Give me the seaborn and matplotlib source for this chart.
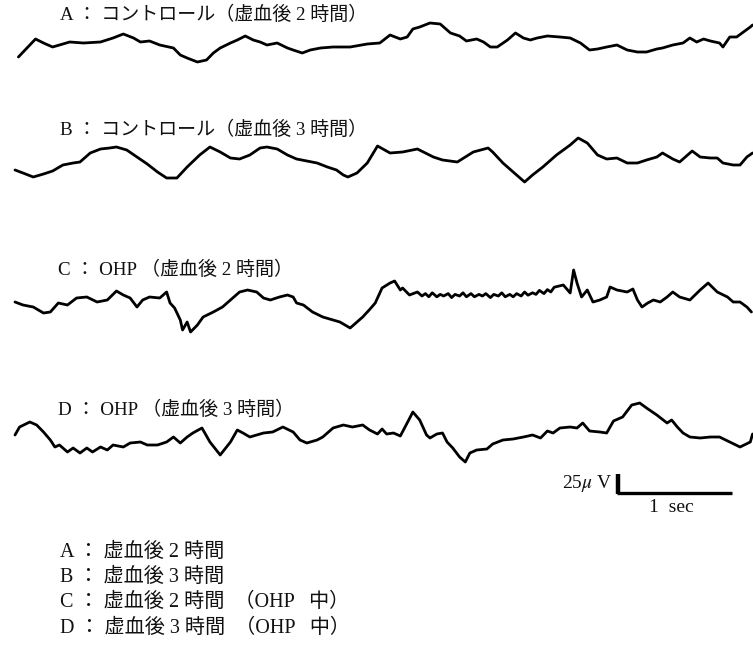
import matplotlib
matplotlib.use("Agg")
import matplotlib.pyplot as plt
import numpy as np
import pandas as pd
import seaborn as sns

# --- EEG traces: time (s) and amplitude (µV) ---
a_t = [0.03, 0.18, 0.25, 0.33, 0.39, 0.48, 0.60, 0.75, 0.86, 0.95, 1.04, 1.10, 1.18, 1.27, 1.39,
       1.45, 1.51, 1.60, 1.68, 1.74, 1.80, 1.89, 1.95, 2.02, 2.09, 2.15, 2.21, 2.30, 2.39, 2.44,
       2.52, 2.59, 2.68, 2.79, 2.94, 3.09, 3.20, 3.29, 3.38, 3.44, 3.49, 3.55, 3.64, 3.73, 3.82,
       3.90, 3.96, 4.05, 4.11, 4.17, 4.23, 4.32, 4.39, 4.46, 4.52, 4.58, 4.67, 4.78, 4.87, 4.96,
       5.04, 5.11, 5.19, 5.28, 5.37, 5.46, 5.54, 5.63, 5.68, 5.77, 5.86, 5.92, 5.98, 6.04, 6.10,
       6.18, 6.21, 6.27, 6.33, 6.39, 6.45, 6.47]
a_v = [-15, 7.5, 2.5, -2.5, 0, 3.75, 2.5, 3.75, 8.75, 13.75, 8.75, 3.75, 5, 0, -3.75,
       -12.5, -16.25, -21.25, -18.75, -10, -3.75, 2.5, 6.25, 11.25, 6.25, 3.75, 0, 2.5, -3.75, -6.25,
       -10, -6.25, -3.75, -2.5, -2.5, 1.25, 2.5, 12.5, 7.5, 10, 20, 22.5, 27.5, 26.25, 15,
       11.25, 5, 7.5, 3.75, -2.5, -2.5, 6.25, 15, 8.75, 6.25, 8.75, 11.25, 10, 8.75, 2.5,
       -6.25, -5, -2.5, 0, -6.25, -8.75, -8.75, -5, -3.75, 0, 2.5, 8.75, 3.75, 7.5, 5,
       2.5, -2.5, 10, 10, 16.25, 22.5, 25]

b_t = [0.00, 0.07, 0.16, 0.25, 0.33, 0.42, 0.51, 0.57, 0.66, 0.75, 0.83, 0.89, 0.98, 1.07, 1.16,
       1.25, 1.33, 1.42, 1.51, 1.62, 1.71, 1.80, 1.89, 1.97, 2.06, 2.15, 2.21, 2.30, 2.39, 2.47,
       2.56, 2.65, 2.74, 2.82, 2.88, 2.92, 3.00, 3.09, 3.18, 3.29, 3.40, 3.53, 3.67, 3.75, 3.88,
       4.02, 4.15, 4.19, 4.28, 4.37, 4.47, 4.54, 4.63, 4.75, 4.87, 4.94, 5.02, 5.11, 5.19, 5.28,
       5.37, 5.46, 5.54, 5.63, 5.68, 5.77, 5.83, 5.94, 6.01, 6.10, 6.16, 6.21, 6.30, 6.36, 6.42,
       6.47]
b_v = [-12.5, -16.25, -21.25, -17.5, -13.75, -6.25, -3.75, -2.5, 8.75, 13.75, 15, 16.25, 12.5, 3.75, -5,
       -15, -22.5, -22.5, -8.75, 6.25, 16.25, 10, 2.5, 1.25, 6.25, 15, 16.25, 13.75, 6.25, 1.25,
       -1.25, -3.75, -8.75, -12.5, -18.75, -21.25, -16.25, -3.75, 17.5, 8.75, 10, 13.75, 3.75, 0, -2.5,
       10, 15, 10, -3.75, -15, -27.5, -18.75, -8.75, 6.25, 18.75, 27.5, 21.25, 6.25, 1.25, 2.5,
       -3.75, -3.75, 0, 3.75, 8.75, 1.25, -2.5, 11.25, 3.75, 2.5, 2.5, -3.75, -6.25, -6.25, 3.75,
       8.75]

c_t = [0.00, 0.07, 0.16, 0.25, 0.31, 0.38, 0.46, 0.54, 0.63, 0.72, 0.81, 0.89, 0.95, 1.01, 1.07,
       1.12, 1.18, 1.27, 1.33, 1.36, 1.40, 1.45, 1.47, 1.51, 1.54, 1.60, 1.65, 1.74, 1.82, 1.91,
       1.97, 2.04, 2.12, 2.18, 2.24, 2.32, 2.39, 2.44, 2.47, 2.53, 2.61, 2.70, 2.79, 2.85, 2.94,
       3.00, 3.05, 3.11, 3.16, 3.22, 3.29, 3.33, 3.38, 3.40, 3.46, 3.53,
       3.57, 3.60, 3.63, 3.66, 3.70, 3.73, 3.76, 3.80, 3.83, 3.86, 3.90, 3.93, 3.96, 4.00, 4.03,
       4.07, 4.10, 4.13, 4.17, 4.20, 4.24, 4.27, 4.30, 4.34, 4.37, 4.40, 4.44, 4.47, 4.50, 4.54,
       4.57, 4.60, 4.64, 4.67, 4.70, 4.73,
       4.81, 4.87, 4.90, 4.93, 4.97, 5.02, 5.07, 5.13, 5.19, 5.22, 5.28, 5.37, 5.42, 5.46, 5.50,
       5.55, 5.60, 5.66, 5.72, 5.77, 5.83, 5.92, 6.01, 6.08, 6.16, 6.25, 6.30, 6.36, 6.42, 6.46]
c_v = [-2.5, -6.25, -8.75, -16.25, -15, -3.75, -6.25, 2.5, 3.75, -2.5, 0, 11.25, 6.25, 2.5, -8.75,
       0, 3.75, 2.5, 10, -3.75, -10, -25, -37.5, -27.5, -40, -31.25, -21.25, -15, -8.75, 2.5,
       10, 12.5, 10, 2.5, 0, 3.75, 6.25, 3.75, -3.75, -6.25, -15, -21.25, -25, -27.5, -35,
       -27.5, -21.25, -12, -3.75, 15, 21.25, 23.75, 12.5, 15, 6.25, 10,
       5, 8, 4, 9, 4, 7, 5, 8, 3, 7, 5, 9, 4, 8, 4,
       7, 5, 8, 3, 7, 5, 9, 4, 7, 4, 8, 5, 10, 6, 9,
       7, 12, 8, 13, 10, 16,
       18.75, 8.75, 37.5, 21.25, 3.75, 12.5, -2.5, 0, 3.75, 16.25, 12.5, 10, 13.75, 0, -8.75,
       -3.75, 0, -2.5, 3.75, 10, 3.75, 0, 12.5, 21.25, 10, 3.75, -2.5, -2.5, -8.75, -15]

d_t = [0.00, 0.04, 0.13, 0.19, 0.25, 0.31, 0.35, 0.39, 0.46, 0.51, 0.57, 0.63, 0.68, 0.75, 0.81,
       0.86, 0.95, 1.01, 1.10, 1.16, 1.25, 1.33, 1.39, 1.45, 1.51, 1.56, 1.64, 1.71, 1.80, 1.89,
       1.95, 2.00, 2.06, 2.18, 2.26, 2.35, 2.44, 2.50, 2.56, 2.65, 2.70, 2.79, 2.88, 2.96, 3.05,
       3.11, 3.18, 3.22, 3.26, 3.32, 3.38, 3.44, 3.49, 3.55, 3.61, 3.64, 3.70, 3.75, 3.79, 3.84,
       3.90, 3.95, 3.99, 4.05, 4.14, 4.19, 4.28, 4.37, 4.46, 4.54, 4.61, 4.67, 4.72, 4.78, 4.87,
       4.93, 4.98, 5.04, 5.13, 5.19, 5.25, 5.33, 5.41, 5.48, 5.54, 5.63, 5.72, 5.76, 5.81, 5.86,
       5.92, 6.01, 6.10, 6.18, 6.27, 6.36, 6.45, 6.47]
d_v = [2.5, 12.5, 18.75, 15, 6.25, -3.75, -12.5, -10, -18.75, -13.75, -20, -13.75, -18.75, -12.5, -16.25,
       -10, -12.5, -7.5, -6.25, -10, -10, -6.25, 0, -7.5, 0, 5, 11.25, -6.25, -22.5, -6.25,
       8.75, 5, 0, 5, 6.25, 12.5, 6.25, -3.75, -7.5, -3.75, 0, 11.25, 15, 12.5, 15,
       8.75, 3.75, 10, 3.75, 5, 1.25, 17.5, 31.25, 21.25, 2.5, -1.25, 3.75, 5, -6.25, -13.75,
       -25, -31.25, -20, -16.25, -15, -8.75, -3.75, -2.5, 0, 2.5, -1.25, 7.5, 5, 11.25, 12.5,
       11.25, 17.5, 7.5, 6.25, 5, 20, 25, 40, 42.5, 36.25, 27.5, 17.5, 21.25, 12.5, 5,
       0, -1.25, 0, 0, -6.25, -12.5, -6.25, 3.75]

trace_titles = ["A ： コントロール（虚血後 2 時間）",
                "B ： コントロール（虚血後 3 時間）",
                "C ： OHP （虚血後 2 時間）",
                "D ： OHP （虚血後 3 時間）"]
legend_lines = ["A ： 虚血後 2 時間",
                "B ： 虚血後 3 時間",
                "C ： 虚血後 2 時間  （OHP   中）",
                "D ： 虚血後 3 時間  （OHP   中）"]
scale_uv = 25    # vertical calibration, µV
scale_sec = 1    # horizontal calibration, s

# --- layout ---
W, H = 753, 666
PX_PER_SEC = 114.0
PX_PER_UV = 20.0 / 25.0
X0 = 15.0
baselines_px = [45, 160, 300, 437]

sns.set_theme(style="white")
plt.rcParams["font.family"] = ["Liberation Serif", "Noto Sans CJK JP", "DejaVu Sans"]
plt.rcParams["mathtext.fontset"] = "stix"

fig = plt.figure(figsize=(W / 100, H / 100), dpi=100)
ax = fig.add_axes([0, 0, 1, 1])
ax.set_xlim(-X0 / PX_PER_SEC, (W - X0) / PX_PER_SEC)
ax.set_ylim(-H / PX_PER_UV, 0)
ax.set_axis_off()

traces = [(a_t, a_v), (b_t, b_v), (c_t, c_v), (d_t, d_v)]
frames = []
for name, (t, v), base in zip("ABCD", traces, baselines_px):
    off = -base / PX_PER_UV
    frames.append(pd.DataFrame({"t": t, "y": np.asarray(v, float) + off, "trace": name}))
df = pd.concat(frames, ignore_index=True)

sns.lineplot(data=df, x="t", y="y", units="trace", estimator=None, sort=False,
             color="black", lw=2.0, ax=ax, legend=False)

# calibration bar
bar_t0 = (618 - X0) / PX_PER_SEC
bar_y0 = -494 / PX_PER_UV
ax.plot([bar_t0, bar_t0], [bar_y0, bar_y0 + scale_uv], color="black", lw=3.2,
        solid_capstyle="butt")
ax.plot([bar_t0 - 0.012, bar_t0 + scale_sec], [bar_y0 + 0.8, bar_y0 + 0.8], color="black",
        lw=2.4, solid_capstyle="butt")

def fxy(x, y):
    return x / W, 1 - y / H

title_pos = [(60, 15), (60, 130), (58, 270), (58, 410)]
for txt, (x, y) in zip(trace_titles, title_pos):
    fig.text(*fxy(x, y), txt, fontsize=13.7, ha="left", va="center", color="#111111")

fig.text(*fxy(612, 484), r"25$\mu$ V", fontsize=14, ha="right", va="center", color="#111111")
fig.text(*fxy(671, 507), f"{scale_sec}  sec", fontsize=14, ha="center", va="center",
         color="#111111")

for i, txt in enumerate(legend_lines):
    fig.text(*fxy(60, 552 + 25.3 * i), txt, fontsize=14.5, ha="left", va="center",
             color="#111111")

fig.savefig("out.png", dpi=100, facecolor="white")
